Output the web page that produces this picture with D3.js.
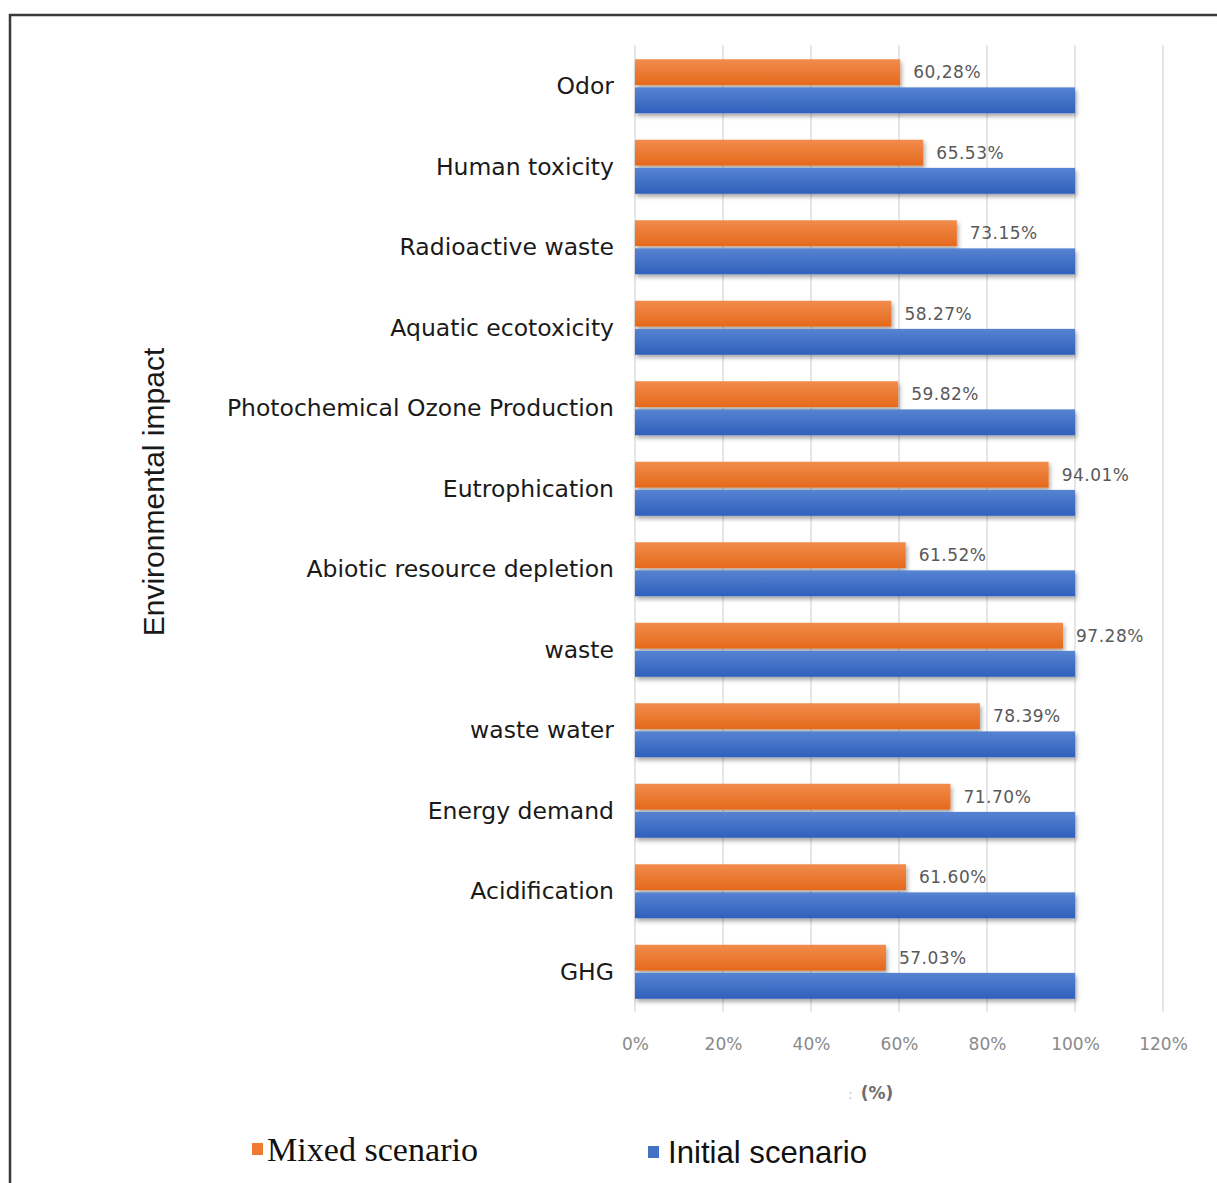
<!DOCTYPE html>
<html>
<head>
<meta charset="utf-8">
<script src="https://cdn.jsdelivr.net/npm/d3@7"></script>
<style>
  html, body { margin: 0; padding: 0; background: #fff; }
  svg { display: block; }
</style>
</head>
<body>
<svg id="chart" width="1217" height="1183"></svg>
<script>
// Environmental impact categories, top to bottom
const categories = [
  "Odor", "Human toxicity", "Radioactive waste", "Aquatic ecotoxicity",
  "Photochemical Ozone Production", "Eutrophication", "Abiotic resource depletion",
  "waste", "waste water", "Energy demand", "Acidification", "GHG"
];
// Mixed scenario relative to the initial scenario (%)
const mixedValues = [60.28, 65.53, 73.15, 58.27, 59.82, 94.01, 61.52, 97.28, 78.39, 71.70, 61.60, 57.03];
const mixedLabels = ["60,28%", "65.53%", "73.15%", "58.27%", "59.82%", "94.01%", "61.52%", "97.28%", "78.39%", "71.70%", "61.60%", "57.03%"];
// Initial scenario is the 100% reference
const initialValues = [100, 100, 100, 100, 100, 100, 100, 100, 100, 100, 100, 100];
const series = ["Mixed scenario", "Initial scenario"];
const xTicks = [0, 20, 40, 60, 80, 100, 120];

const svg = d3.select("#chart");

// frame lines (top and left)
svg.append("line").attr("x1", 9).attr("x2", 1217).attr("y1", 15).attr("y2", 15)
  .attr("stroke", "#3a3a3a").attr("stroke-width", 2.5);
svg.append("line").attr("x1", 10).attr("x2", 10).attr("y1", 14).attr("y2", 1183)
  .attr("stroke", "#3a3a3a").attr("stroke-width", 2.5);

const defs = svg.append("defs");
function grad(id, top, bottom) {
  const g = defs.append("linearGradient").attr("id", id)
    .attr("x1", 0).attr("x2", 0).attr("y1", 0).attr("y2", 1);
  g.append("stop").attr("offset", "0%").attr("stop-color", top);
  g.append("stop").attr("offset", "100%").attr("stop-color", bottom);
}
grad("gOrange", "#f28c4c", "#e4691b");
grad("gBlue", "#5783d2", "#2f60bc");
const sh = defs.append("filter").attr("id", "shadow")
  .attr("x", "-5%").attr("y", "-30%").attr("width", "115%").attr("height", "180%");
sh.append("feDropShadow").attr("dx", 1.5).attr("dy", 3).attr("stdDeviation", 2)
  .attr("flood-color", "#000").attr("flood-opacity", 0.35);

const x = d3.scaleLinear().domain([0, 120]).range([635, 1163]);
const y = d3.scaleBand().domain(categories).range([46, 1012]).padding(0);
const bw = y.bandwidth();
const ySub = d3.scaleBand().domain(series).range([bw / 2 - 27, bw / 2 + 27]).paddingInner(0.08);

// vertical gridlines
svg.append("g").selectAll("line").data(xTicks).join("line")
  .attr("x1", d => x(d)).attr("x2", d => x(d))
  .attr("y1", 45).attr("y2", 1012)
  .attr("stroke", "#d9d9d9").attr("stroke-width", 1.3);

// x axis tick labels
const xAxis = d3.axisBottom(x).tickValues(xTicks).tickFormat(d => d + "%").tickSize(0).tickPadding(0);
const gx = svg.append("g").attr("transform", "translate(0,1050)").call(xAxis);
gx.select(".domain").remove();
gx.selectAll("text").attr("font-family", "'DejaVu Sans', sans-serif")
  .attr("font-size", 17).attr("fill", "#8a8a8a").attr("dy", 0);

// bars
const groups = svg.append("g").selectAll("g").data(categories).join("g")
  .attr("transform", d => `translate(0,${y(d)})`);

groups.append("rect")
  .attr("x", x(0)).attr("y", ySub("Mixed scenario"))
  .attr("width", (d, i) => x(mixedValues[i]) - x(0))
  .attr("height", ySub.bandwidth())
  .attr("fill", "url(#gOrange)").attr("filter", "url(#shadow)");

groups.append("rect")
  .attr("x", x(0)).attr("y", ySub("Initial scenario"))
  .attr("width", (d, i) => x(initialValues[i]) - x(0))
  .attr("height", ySub.bandwidth())
  .attr("fill", "url(#gBlue)").attr("filter", "url(#shadow)");

// value labels on the mixed bars
groups.append("text")
  .attr("x", (d, i) => x(mixedValues[i]) + 13)
  .attr("y", ySub("Mixed scenario") + ySub.bandwidth() / 2)
  .attr("dy", "0.35em")
  .attr("font-family", "'DejaVu Sans', sans-serif").attr("font-size", 17)
  .attr("letter-spacing", 0.5)
  .attr("fill", "#595959")
  .text((d, i) => mixedLabels[i]);

// category labels
groups.append("text")
  .attr("x", 614).attr("y", bw / 2)
  .attr("dy", "0.35em").attr("text-anchor", "end")
  .attr("font-family", "'DejaVu Sans', sans-serif").attr("font-size", 23.5)
  .attr("fill", "#1a1a1a")
  .text(d => d);

// y axis title
svg.append("text")
  .attr("transform", "translate(164,492) rotate(-90)")
  .attr("text-anchor", "middle")
  .attr("font-family", "'Liberation Sans', Arial, sans-serif").attr("font-size", 30)
  .attr("fill", "#1a1a1a")
  .text("Environmental impact");

// x axis title
svg.append("text").attr("x", 848).attr("y", 1099)
  .attr("font-family", "'DejaVu Sans', sans-serif").attr("font-size", 14)
  .attr("fill", "#c8c8c8").text(":");
svg.append("text").attr("x", 877).attr("y", 1099).attr("text-anchor", "middle")
  .attr("font-family", "'DejaVu Sans', sans-serif").attr("font-size", 17)
  .attr("font-weight", "bold").attr("fill", "#6e6e6e").text("(%)");

// legend
const legend = svg.append("g");
legend.append("rect").attr("x", 252).attr("y", 1143).attr("width", 11).attr("height", 12).attr("fill", "#ef7a30");
legend.append("text").attr("x", 267).attr("y", 1161)
  .attr("font-family", "'Liberation Serif', 'Times New Roman', serif").attr("font-size", 33)
  .attr("textLength", 211).attr("lengthAdjust", "spacingAndGlyphs")
  .attr("fill", "#111").text(series[0]);
legend.append("rect").attr("x", 648).attr("y", 1146).attr("width", 11).attr("height", 12).attr("fill", "#4472c4");
legend.append("text").attr("x", 668).attr("y", 1163)
  .attr("font-family", "'Liberation Sans Narrow', 'Liberation Sans', Arial, sans-serif").attr("font-size", 32)
  .attr("textLength", 199).attr("lengthAdjust", "spacingAndGlyphs")
  .attr("fill", "#111").text(series[1]);
</script>
</body>
</html>
